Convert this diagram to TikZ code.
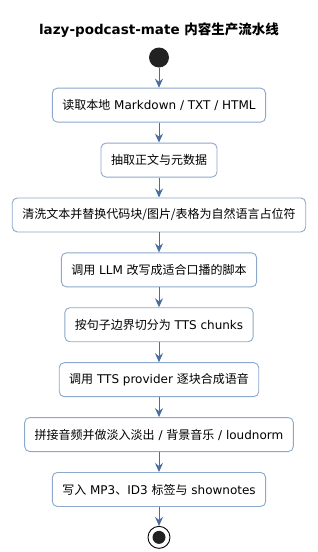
\documentclass[tikz,border=0pt]{standalone}
\usepackage{fontspec}
\usepackage{xcolor}
\usetikzlibrary{arrows.meta, positioning}
\setmainfont{DejaVu Sans}
\newfontfamily\cjk{Noto Sans CJK SC}
\newcommand{\zh}[1]{{\cjk #1}}
\definecolor{flowBlue}{RGB}{72,110,160}
\definecolor{boxEdge}{RGB}{140,168,205}
\definecolor{dotDark}{RGB}{34,34,34}

\tikzset{
  stepbox/.style={draw=boxEdge, fill=white, rounded corners=5pt, line width=0.9pt,
    minimum height=34pt, inner xsep=10pt, font=\fontsize{12}{14}\selectfont},
  flow/.style={draw=flowBlue, line width=1pt, -{Stealth[length=9pt, width=8pt, inset=3pt]}},
}

\begin{document}
\begin{tikzpicture}[x=1pt, y=1pt]
  \useasboundingbox (0,0) rectangle (317,-552);

  % Title
  \node[font=\bfseries\fontsize{13.5}{16}\selectfont] (title) at (159,-30)
    {lazy-podcast-mate \zh{内容生产流水线}};

  % Start dot
  \node[circle, fill=dotDark, minimum size=20pt, inner sep=0pt] (start) at (159,-57.5) {};

  % Pipeline steps
  \node[stepbox, below=20pt of start]   (read)    {\zh{读取本地} Markdown / TXT / HTML};
  \node[stepbox, below=20pt of read]    (extract) {\zh{抽取正文与元数据}};
  \node[stepbox, below=20pt of extract] (clean)   {\zh{清洗文本并替换代码块/图片/表格为自然语言占位符}};
  \node[stepbox, below=20pt of clean]   (rewrite) {\zh{调用} LLM \zh{改写成适合口播的脚本}};
  \node[stepbox, below=20pt of rewrite] (chunk)   {\zh{按句子边界切分为} TTS chunks};
  \node[stepbox, below=20pt of chunk]   (synth)   {\zh{调用} TTS provider \zh{逐块合成语音}};
  \node[stepbox, below=20pt of synth]   (mix)     {\zh{拼接音频并做淡入淡出} / \zh{背景音乐} / loudnorm};
  \node[stepbox, below=20pt of mix]     (write)   {\zh{写入} MP3\zh{、}ID3 \zh{标签与} shownotes};

  % End dot
  \node[circle, draw=black, line width=0.9pt, minimum size=22pt, inner sep=0pt,
    below=19pt of write] (stop) {};
  \node[circle, fill=dotDark, minimum size=13pt, inner sep=0pt] (stopdot) at (stop.center) {};

  % Connectors
  \foreach \from/\to in {start/read, read/extract, extract/clean, clean/rewrite,
      rewrite/chunk, chunk/synth, synth/mix, mix/write, write/stop}
    \draw[flow] (\from) -- (\to);
\end{tikzpicture}
\end{document}
